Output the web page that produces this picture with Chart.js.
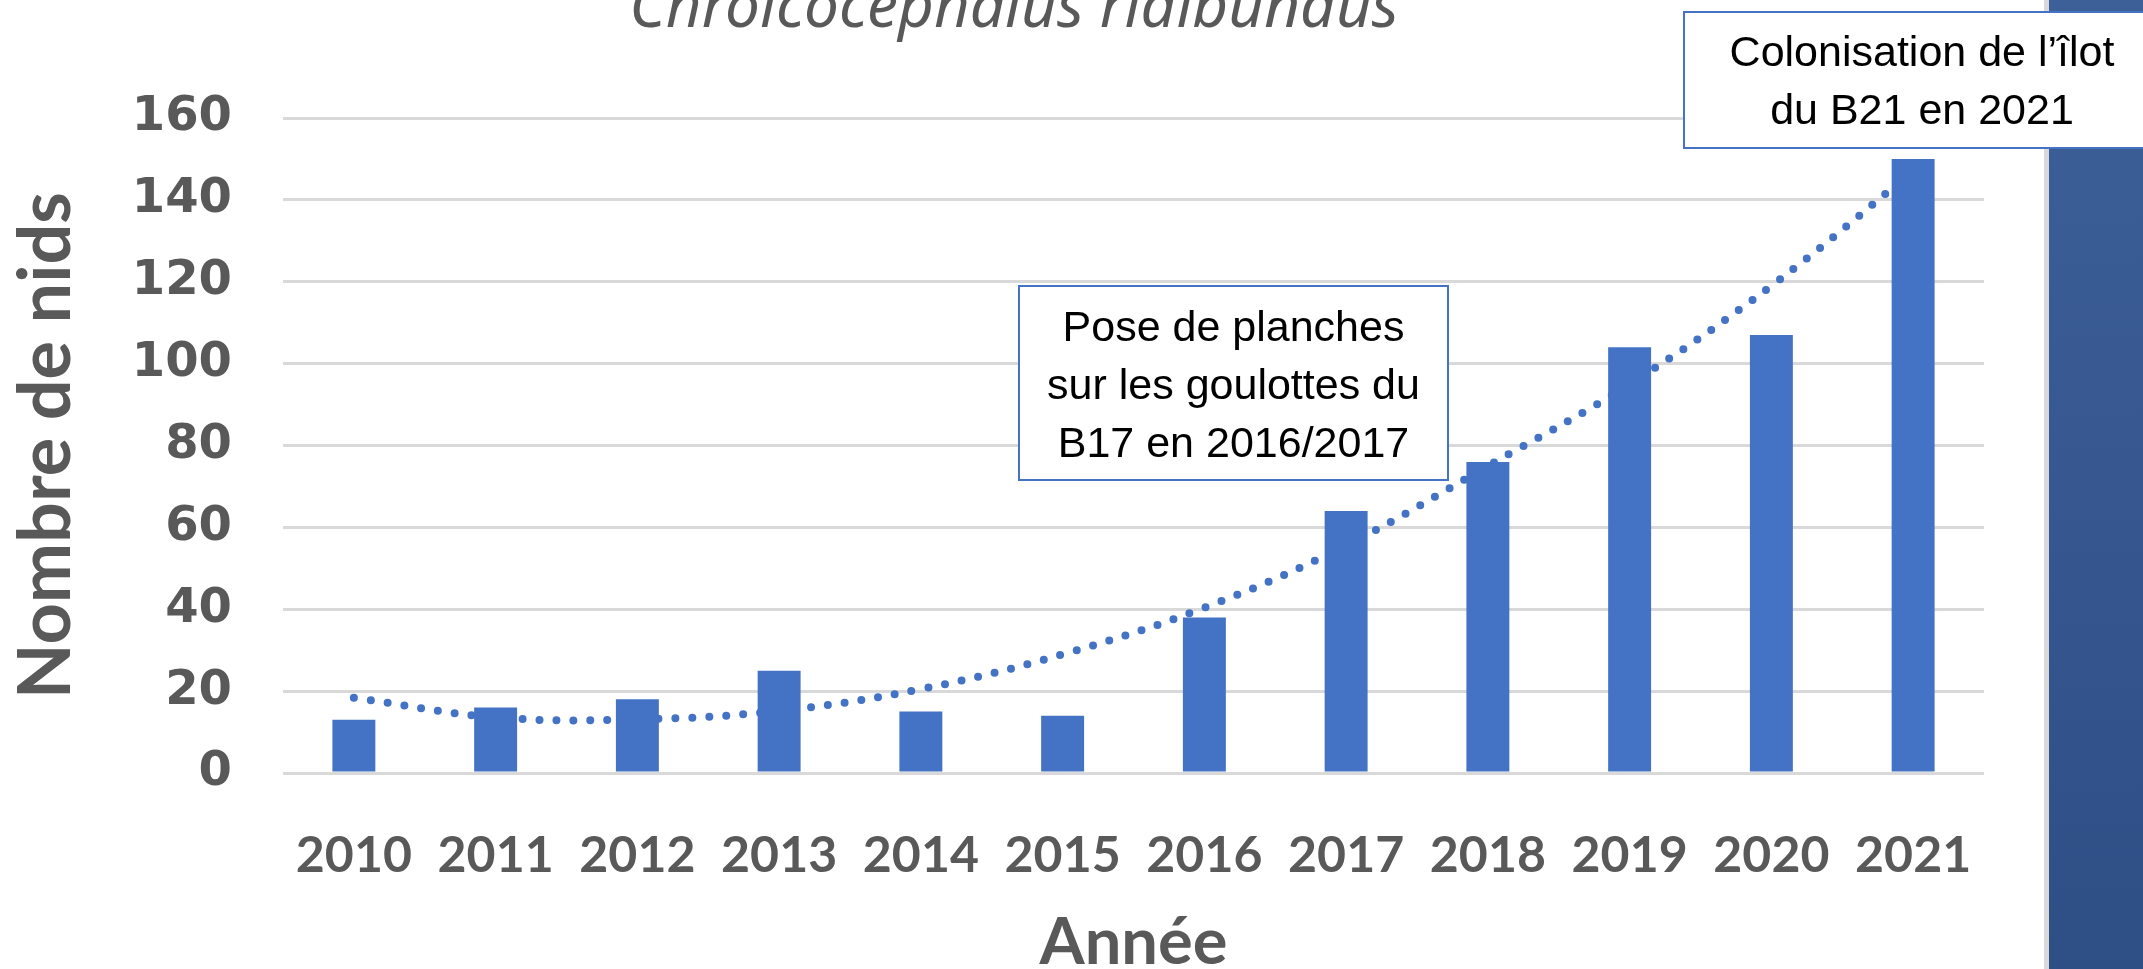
<!DOCTYPE html>
<html lang="fr">
<head>
<meta charset="utf-8">
<title>Nombre de nids - Chroicocephalus ridibundus</title>
<script src="https://cdn.jsdelivr.net/npm/chart.js@4.4.1/dist/chart.umd.min.js"></script>
<style>
  html, body { margin: 0; padding: 0; background: #ffffff; overflow: hidden; }
  #nidsChart { display: block; }
</style>
</head>
<body>
<canvas id="nidsChart" width="2143" height="969" style="width:2143px;height:969px"></canvas>
<script>
// données
const annees = ['2010', '2011', '2012', '2013', '2014', '2015', '2016', '2017', '2018', '2019', '2020', '2021'];
const nids = [13, 16, 18, 25, 15, 14, 38, 64, 76, 104, 107, 150];
const tendance = [18.4, 13.6, 13.1, 15.2, 20.5, 29, 40.4, 55.6, 75, 95, 119, 147];
const ticksY = [0, 20, 40, 60, 80, 100, 120, 140, 160];

const titre = 'Chroicocephalus ridibundus';
const notePlanches = ['Pose de planches', 'sur les goulottes du', 'B17 en 2016/2017'];
const noteIlot = ['Colonisation de l\u2019\u00eelot', 'du B21 en 2021'];

const bleu = '#4472C4';
const gris = '#595959';

// fond, bandeau bleu à droite, titre et encadrés
const decor = {
    id: 'decor',
    beforeDraw(chart) {
        const ctx = chart.ctx;
        ctx.save();
        ctx.fillStyle = '#ffffff';
        ctx.fillRect(0, 0, chart.width, chart.height);
        ctx.fillStyle = '#d9d9d9';
        ctx.fillRect(2044, 0, 5, chart.height);
        const grad = ctx.createLinearGradient(0, 0, 0, chart.height);
        grad.addColorStop(0, '#3e6099');
        grad.addColorStop(1, '#2e4e86');
        ctx.fillStyle = grad;
        ctx.fillRect(2049, 0, chart.width - 2049, chart.height);
        ctx.restore();
    },
    afterDraw(chart) {
        const ctx = chart.ctx;
        ctx.save();
        ctx.fillStyle = gris;
        ctx.font = 'italic 62px "Noto Sans"';
        ctx.textAlign = 'center';
        ctx.textBaseline = 'alphabetic';
        ctx.fillText(titre, 1014, 27);

        const boite = (x, y, w, h, lignes, cx, base0) => {
            ctx.fillStyle = '#ffffff';
            ctx.fillRect(x, y, w, h);
            ctx.strokeStyle = bleu;
            ctx.lineWidth = 2;
            ctx.strokeRect(x, y, w, h);
            ctx.fillStyle = '#000000';
            ctx.font = '43px "Liberation Sans"';
            ctx.textAlign = 'center';
            lignes.forEach((t, i) => ctx.fillText(t, cx, base0 + i * 58));
        };
        boite(1019, 286, 429, 194, notePlanches, 1233.5, 341);
        boite(1684, 12, 480, 136, noteIlot, 1922, 66);
        ctx.restore();
    }
};

const ctxNids = document.getElementById('nidsChart').getContext('2d');
const nidsChart = new Chart(ctxNids, {
    data: {
        labels: annees,
        datasets: [{
            type: 'bar',
            label: 'Nombre de nids',
            data: nids,
            backgroundColor: bleu,
            borderWidth: 0,
            categoryPercentage: 1,
            barPercentage: 0.303,
            order: 1
        }, {
            type: 'line',
            label: 'Tendance',
            data: tendance,
            borderColor: bleu,
            borderWidth: 8,
            borderDash: [0, 17],
            borderCapStyle: 'round',
            pointRadius: 0,
            fill: false,
            tension: 0.4,
            order: 2
        }]
    },
    options: {
        responsive: false,
        devicePixelRatio: 1,
        animation: false,
        layout: {
            padding: { top: 118, right: 159, bottom: 0, left: 0 }
        },
        plugins: {
            legend: { display: false },
            tooltip: { enabled: false }
        },
        scales: {
            x: {
                grid: { display: false, drawTicks: false },
                border: { display: false },
                ticks: {
                    color: gris,
                    padding: 53,
                    maxRotation: 0,
                    font: { family: 'Lato', weight: 'bold', size: 50 }
                },
                title: {
                    display: true,
                    text: 'Ann\u00e9e',
                    color: gris,
                    padding: 0,
                    font: { family: 'Lato', weight: 'bold', size: 65, lineHeight: 0.8 }
                },
                afterFit: (scale) => { scale.height = 196; }
            },
            y: {
                min: 0,
                max: 160,
                afterBuildTicks: (scale) => { scale.ticks = ticksY.map(v => ({ value: v })); },
                grid: { color: '#d9d9d9', lineWidth: 3, drawTicks: false },
                border: { display: false },
                ticks: {
                    color: gris,
                    padding: 51,
                    font: { family: 'DejaVu Sans', weight: 'bold', size: 48 }
                },
                title: {
                    display: true,
                    text: 'Nombre de nids',
                    color: gris,
                    padding: { top: 4, bottom: 0 },
                    font: { family: 'Lato', weight: 'bold', size: 72 }
                },
                afterFit: (scale) => { scale.width = 283; }
            }
        }
    },
    plugins: [decor]
});
</script>
</body>
</html>
